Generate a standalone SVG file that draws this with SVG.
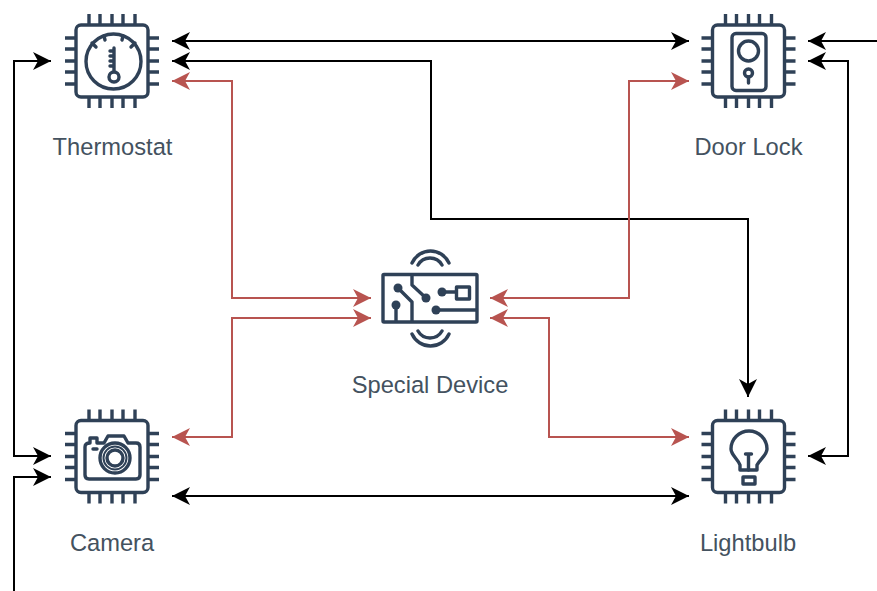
<svg xmlns="http://www.w3.org/2000/svg" width="877" height="591" viewBox="0 0 877 591">
<style>
.ic{fill:none;stroke:#2f4157;stroke-width:3.4;stroke-linecap:round;stroke-linejoin:round}
.thin{fill:none;stroke:#2f4157;stroke-width:2}
.pin{fill:none;stroke:#2f4157;stroke-width:3.4}
.dot{fill:#2f4157}
.k{fill:none;stroke:#000;stroke-width:2;marker-start:url(#ak);marker-end:url(#ak)}
.k1{fill:none;stroke:#000;stroke-width:2;marker-end:url(#ak)}
.r{fill:none;stroke:#b85450;stroke-width:2;marker-start:url(#ar);marker-end:url(#ar)}
text{font-family:"Liberation Sans",Arial,sans-serif;font-size:23.7px;fill:#44525f;text-anchor:middle}
</style>
<defs>
<marker id="ak" markerUnits="userSpaceOnUse" markerWidth="20" markerHeight="18" refX="18" refY="9" orient="auto-start-reverse"><path d="M0 0L18 9L0 18L5 9Z" fill="#000"/></marker>
<marker id="ar" markerUnits="userSpaceOnUse" markerWidth="20" markerHeight="18" refX="18" refY="9" orient="auto-start-reverse"><path d="M0 0L18 9L0 18L5 9Z" fill="#b85450"/></marker>
<g id="chip">
<rect class="ic" x="-36" y="-36" width="72" height="72" rx="5"/>
<path class="pin" d="M-23-36V-47M-12-36V-47M0-36V-47M11-36V-47M23-36V-47M-23 36V47M-12 36V47M0 36V47M11 36V47M23 36V47M-36-23H-47M-36-12H-47M-36 0H-47M-36 11H-47M-36 23H-47M36-23H47M36-12H47M36 0H47M36 11H47M36 23H47"/>
</g>
</defs>
<rect width="877" height="591" fill="#fff"/>
<g id="connectors">
<path class="k" d="M172 41H689"/>
<path class="k" d="M172 61H431V219H748V397"/>
<path class="r" d="M172 81H232V298H371"/>
<path class="r" d="M689 81H629V298H490"/>
<path class="r" d="M172 437H232V318H371"/>
<path class="r" d="M490 318H549V437H689"/>
<path class="k" d="M172 496H689"/>
<path class="k1" d="M877 41H808"/>
<path class="k" d="M808 61H848V456H808"/>
<path class="k" d="M51 61H14V456H51"/>
<path class="k1" d="M14 591V477H51"/>
</g>
<g id="thermostat">
<use href="#chip" x="112" y="61"/>
<circle class="ic" cx="113.500" cy="61.500" r="27.500"/>
<path class="ic" d="M92 43L96 47M135 43L131 47M104 36L105 40M123 36L122 40"/>
<path class="ic" d="M114 48V71M114 51H110M114 56H110M114 61H110M114 66H110"/>
<circle class="ic" cx="114" cy="77" r="5"/>
</g>
<g id="doorlock">
<use href="#chip" x="748.500" y="61"/>
<rect class="ic" x="732" y="33.500" width="34" height="57" rx="4"/>
<circle class="ic" cx="748.500" cy="51" r="10"/>
<circle class="ic" cx="748.500" cy="73" r="4"/>
<path class="ic" d="M748.500 77V83"/>
</g>
<g id="special">
<rect class="ic" x="383" y="274.500" width="94" height="47.500" rx="1"/>
<path class="ic" d="M412 276V285L426 298M398 288L412 302V321M396 305V321M442 292H456M436 310H476"/>
<rect class="ic" x="456.500" y="287" width="13" height="12"/>
<circle class="dot" cx="398" cy="288" r="4.500"/><circle class="dot" cx="426" cy="298" r="4.500"/><circle class="dot" cx="396" cy="305" r="4.500"/><circle class="dot" cx="442" cy="292" r="4.500"/><circle class="dot" cx="436" cy="310" r="4.500"/>
<path class="ic" d="M412 263A20.300 20.300 0 0 1 449 263M418 265A13.800 13.800 0 0 1 442 265M412 334A20.300 20.300 0 0 0 449 334M418 331A13.800 13.800 0 0 0 442 331"/>
</g>
<g id="camera">
<use href="#chip" x="112" y="456.500"/>
<path class="ic" d="M90 443V438H97V443H104L108 436H124L128 443H136Q140 443 140 447V475Q140 479 136 479H89Q85 479 85 475V447Q85 443 90 443Z"/>
<circle class="ic" cx="115" cy="458" r="15"/>
<circle class="thin" cx="115" cy="458" r="11.500"/>
<circle class="ic" cx="115" cy="458" r="8"/>
<path class="ic" d="M93 449H97"/>
</g>
<g id="lightbulb">
<use href="#chip" x="748.500" y="456.500"/>
<path class="ic" d="M740 470V465C738 459 731 455 731 449A18 18 0 1 1 767 449C767 455 760 459 757 465V470Z"/>
<path class="ic" d="M748.500 455V470M745.500 454H751.500"/>
<rect class="ic" x="743" y="477" width="12" height="7"/>
</g>
<text x="112.500" y="155">Thermostat</text>
<text x="748.500" y="155">Door Lock</text>
<text x="430" y="393">Special Device</text>
<text x="112" y="551">Camera</text>
<text x="748" y="551">Lightbulb</text>
</svg>
